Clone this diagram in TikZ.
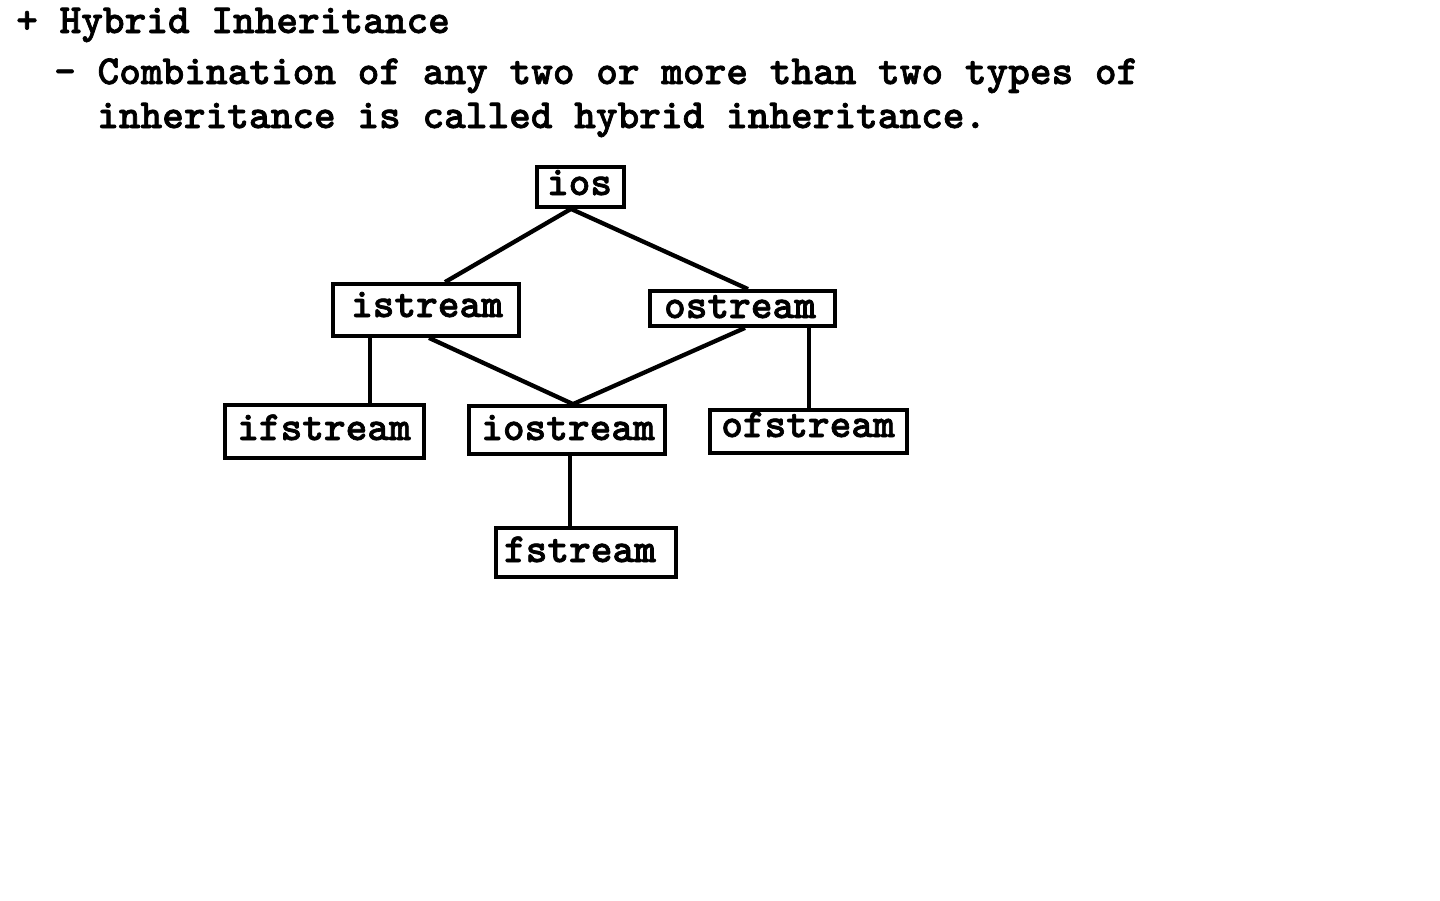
\documentclass[tikz,border=0pt]{standalone}
\usepackage{fontspec}
\newfontfamily\heavytt{lmmonolt10-bold.otf}[FakeBold=1.6]
\begin{document}
\begin{tikzpicture}[x=1pt,y=-1pt,
  txt/.style={inner sep=0pt, anchor=base west, font=\fontsize{41.3}{44}\selectfont\heavytt},
  lbl/.style={inner sep=0pt, anchor=base, font=\fontsize{41.3}{44}\selectfont\heavytt},
  box/.style={draw, line width=3.8pt, inner sep=0pt},
  diag/.style={line width=4.3pt},
  vert/.style={line width=3.4pt}]
\useasboundingbox (0,0) rectangle (1440,900);
% header text
\node[txt] (h1) at (16,33) {+ Hybrid Inheritance};
\node[txt] (h2) at (54,84) {- Combination of any two or more than two types of};
\node[txt] (h3) at (97,128) {inheritance is called hybrid inheritance.};
% boxes
\node[box, minimum width=87pt, minimum height=40pt] (ios) at (580.5,187) {};
\node[box, minimum width=186pt, minimum height=52pt] (istream) at (426,310) {};
\node[box, minimum width=185pt, minimum height=35pt] (ostream) at (742.5,308.5) {};
\node[box, minimum width=199pt, minimum height=53pt] (ifstream) at (324.5,431.5) {};
\node[box, minimum width=196pt, minimum height=48pt] (iostream) at (567,430) {};
\node[box, minimum width=197pt, minimum height=43pt] (ofstream) at (808.5,431.5) {};
\node[box, minimum width=180pt, minimum height=49pt] (fstream) at (586,552.5) {};
% labels
\node[lbl] (iosT) at (579.5,195) {ios};
\node[lbl] (istreamT) at (427,317) {istream};
\node[lbl] (ostreamT) at (740,318) {ostream};
\node[lbl] (ifstreamT) at (324,440) {ifstream};
\node[lbl] (iostreamT) at (568,440) {iostream};
\node[lbl] (ofstreamT) at (808,437) {ofstream};
\node[lbl] (fstreamT) at (580,562) {fstream};
% connectors
\draw[diag] ([xshift=-9.5pt]ios.south) -- ([xshift=19pt]istream.north);
\draw[diag] ([xshift=-9.5pt]ios.south) -- ([xshift=5.5pt]ostream.north);
\draw[diag] ([xshift=3pt]istream.south) -- ([xshift=6pt]iostream.north);
\draw[diag] ([xshift=2.5pt]ostream.south) -- ([xshift=6pt]iostream.north);
\draw[vert] ([xshift=-56pt]istream.south) -- ([xshift=45.5pt]ifstream.north);
\draw[vert] ([xshift=66.5pt]ostream.south) -- ([xshift=0.5pt]ofstream.north);
\draw[vert] ([xshift=3pt]iostream.south) -- ([xshift=-16pt]fstream.north);
\end{tikzpicture}
\end{document}
